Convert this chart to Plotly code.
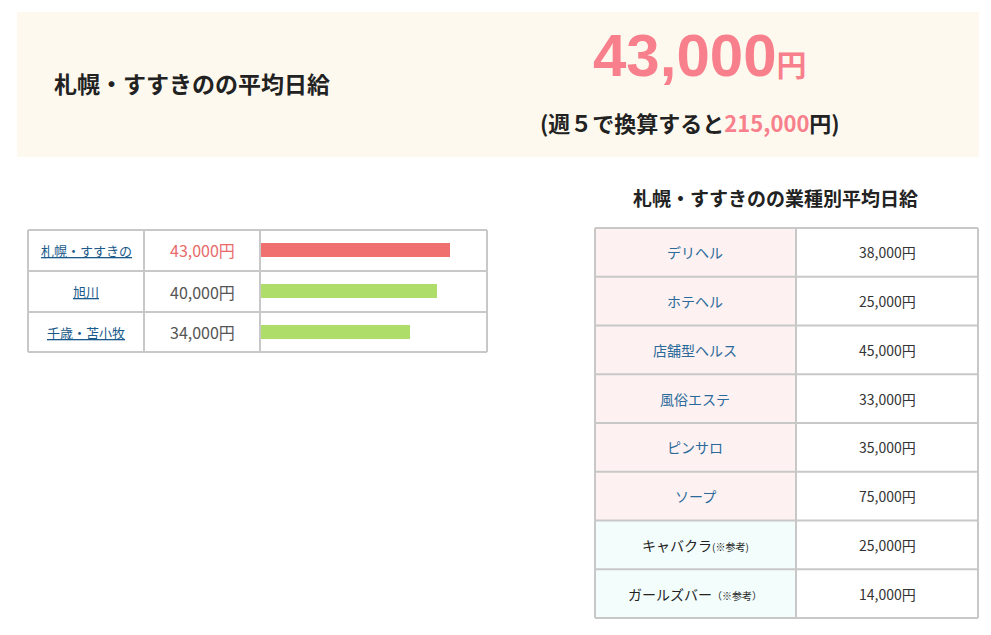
import plotly.graph_objects as go

W, H = 975, 619
OFF = 8
areas = ["札幌・すすきの", "旭川", "千歳・苫小牧"]
area_pay = [43000, 40000, 34000]
area_colors = ["#f07070", "#aedd6a", "#aedd6a"]
genres = ["デリヘル", "ホテヘル", "店舗型ヘルス", "風俗エステ", "ピンサロ", "ソープ", "キャバクラ", "ガールズバー"]
genre_pay = [38000, 25000, 45000, 33000, 35000, 75000, 25000, 14000]
genre_ref = [False]*6 + [True, True]
avg_day = 43000
week_days = 5

def px(x): return (x - OFF) / W
def py(y): return 1 - (y - OFF) / H

FONT = "Noto Sans CJK JP"
fig = go.Figure()
shapes, ann = [], []

# banner
shapes.append(dict(type="rect", xref="paper", yref="paper", x0=px(17), x1=px(979), y0=py(157), y1=py(12),
                   fillcolor="#fdf9ee", line=dict(width=0), layer="below"))
ann.append(dict(x=px(52), y=py(83), text="<b>札幌・すすきのの平均日給</b>", xanchor="left",
                font=dict(size=23, color="#222")))
ann.append(dict(x=px(700), y=py(55), text=f"<b>{avg_day:,}<span style='font-size:30px'>円</span></b>",
                font=dict(size=60, color="#f7808c", family="Liberation Sans, " + FONT)))
ann.append(dict(x=px(690), y=py(122),
                text=f"<b>(週５で換算すると<span style='color:#f7808c'>{avg_day*week_days:,}</span>円)</b>",
                font=dict(size=22, color="#222")))

# left table
rows = [230, 271, 312, 352]
cols = [28, 144, 260, 487]
for c in cols:
    shapes.append(dict(type="line", xref="paper", yref="paper", x0=px(c), x1=px(c), y0=py(rows[0]), y1=py(rows[-1]),
                       line=dict(color="#c8c8c8", width=2)))
for r in rows:
    shapes.append(dict(type="line", xref="paper", yref="paper", x0=px(cols[0]), x1=px(cols[-1]), y0=py(r), y1=py(r),
                       line=dict(color="#c8c8c8", width=2)))
for i, (a, v) in enumerate(zip(areas, area_pay)):
    yc = (rows[i] + rows[i+1]) / 2
    ann.append(dict(x=px(86), y=py(yc), text=f"<u>{a}</u>", font=dict(size=13, color="#1a5a8a")))
    ann.append(dict(x=px(202), y=py(yc), text=f"{v:,}円",
                    font=dict(size=16, color="#e86a6a" if i == 0 else "#555")))

fig.add_trace(go.Bar(x=area_pay, y=areas, orientation="h", marker=dict(color=area_colors, line=dict(width=0)),
                     width=0.34, hoverinfo="skip"))
fig.update_xaxes(domain=[px(261), px(487)], range=[0, 226/189*43000], visible=False, fixedrange=True)
fig.update_yaxes(domain=[py(352), py(230)], autorange="reversed", visible=False, fixedrange=True)

# right table
ann.append(dict(x=px(775), y=py(197), text="<b>札幌・すすきのの業種別平均日給</b>", font=dict(size=19, color="#222")))
rr = [228 + i * (618 - 228) / 8 for i in range(9)]
rc = [595, 796, 978]
for i in range(8):
    shapes.append(dict(type="rect", xref="paper", yref="paper", x0=px(rc[0]), x1=px(rc[1]), y0=py(rr[i+1]), y1=py(rr[i]),
                       fillcolor="#f2fdfc" if genre_ref[i] else "#fdf1f1", line=dict(width=0), layer="below"))
for c in rc:
    shapes.append(dict(type="line", xref="paper", yref="paper", x0=px(c), x1=px(c), y0=py(rr[0]), y1=py(rr[-1]),
                       line=dict(color="#c8c8c8", width=2)))
for r in rr:
    shapes.append(dict(type="line", xref="paper", yref="paper", x0=px(rc[0]), x1=px(rc[-1]), y0=py(r), y1=py(r),
                       line=dict(color="#c8c8c8", width=2)))
for i, (g, v, ref) in enumerate(zip(genres, genre_pay, genre_ref)):
    yc = (rr[i] + rr[i+1]) / 2
    if ref:
        t = f"{g}<span style='font-size:10px'>{'（※参考）' if i == 7 else '(※参考)'}</span>"
        col = "#222"
    else:
        t, col = g, "#2a6a9a"
    ann.append(dict(x=px(695), y=py(yc), text=t, font=dict(size=14, color=col)))
    ann.append(dict(x=px(887), y=py(yc), text=f"{v:,}円", font=dict(size=14, color="#333")))

for a in ann:
    a.update(xref="paper", yref="paper", showarrow=False)
    a.setdefault("xanchor", "center")
    a["yanchor"] = "middle"
    a["font"].setdefault("family", FONT)

fig.update_layout(width=W, height=H, margin=dict(l=0, r=0, t=0, b=0), paper_bgcolor="white",
                  plot_bgcolor="rgba(0,0,0,0)", showlegend=False, shapes=shapes, annotations=ann,
                  font=dict(family=FONT), bargap=0)
fig.write_html("out.html", config={"displayModeBar": False})
